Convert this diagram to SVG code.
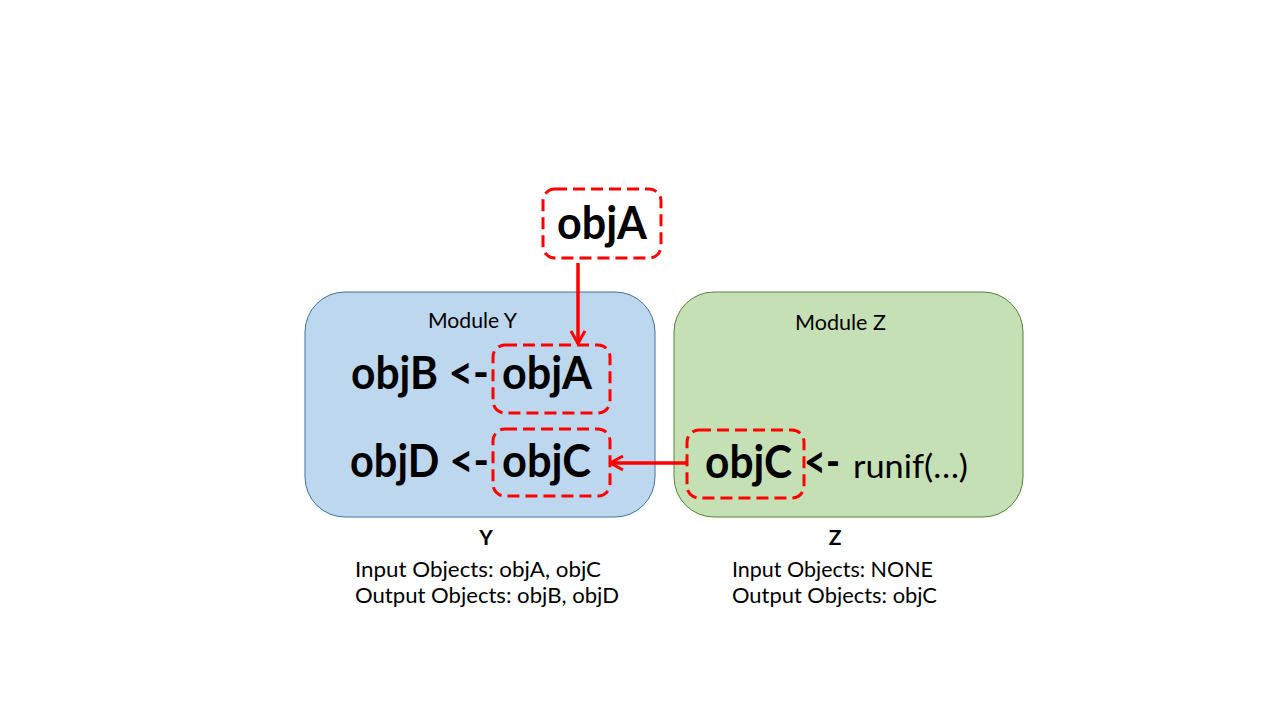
<svg xmlns="http://www.w3.org/2000/svg" width="1280" height="720" viewBox="0 0 1280 720">
<defs>
<style>
.mod-y{fill:#BDD7EE;stroke:#41719C;stroke-width:1}
.mod-z{fill:#C5E0B4;stroke:#548235;stroke-width:1}
.dash{fill:none;stroke:#FF0000;stroke-width:3;stroke-dasharray:12 6}
.big{font-family:Lato,"Open Sans","Liberation Sans",sans-serif;font-weight:bold;font-size:45px;fill:#000}
.reg{font-family:Lato,"Open Sans","Liberation Sans",sans-serif;font-size:21px;fill:#000}
.mid{font-family:Lato,"Open Sans","Liberation Sans",sans-serif;font-size:33px;fill:#000}
.conn{stroke:#FF0000;stroke-width:3.5;fill:none}
</style>
<marker id="arr" viewBox="0 0 16 18" refX="15" refY="9" markerWidth="16" markerHeight="18" markerUnits="userSpaceOnUse" orient="auto">
<path d="M2,2 L14.5,9 L2,16" fill="none" stroke="#FF0000" stroke-width="3"/>
</marker>
</defs>
<rect width="1280" height="720" fill="#FFFFFF"/>

<g id="moduleY">
<rect class="mod-y" x="305" y="292" width="350" height="225" rx="40"/>
<text class="reg" x="428" y="328" textLength="89" lengthAdjust="spacingAndGlyphs">Module Y</text>
<text class="big" x="351" y="389" textLength="138" lengthAdjust="spacingAndGlyphs">objB &lt;-</text>
<text class="big" x="350" y="477" textLength="139" lengthAdjust="spacingAndGlyphs">objD &lt;-</text>
</g>

<g id="moduleZ">
<rect class="mod-z" x="674" y="292" width="349" height="225" rx="40"/>
<text class="reg" x="795" y="330" textLength="91" lengthAdjust="spacingAndGlyphs">Module Z</text>
<text class="big" x="804" y="478" textLength="36" lengthAdjust="spacingAndGlyphs">&lt;-</text>
<text class="mid" x="853" y="478" textLength="115" lengthAdjust="spacingAndGlyphs">runif(…)</text>
</g>

<g id="objA-top">
<rect class="dash" x="543" y="189" width="118" height="69" rx="12"/>
<text class="big" x="557" y="239" textLength="90" lengthAdjust="spacingAndGlyphs">objA</text>
</g>

<g id="objA-inY">
<rect class="dash" x="493" y="345" width="117" height="68" rx="12"/>
<text class="big" x="502" y="389" textLength="90" lengthAdjust="spacingAndGlyphs">objA</text>
</g>

<g id="objC-inY">
<rect class="dash" x="493" y="429" width="117" height="67" rx="12"/>
<text class="big" x="502" y="477" textLength="89" lengthAdjust="spacingAndGlyphs">objC</text>
</g>

<g id="objC-inZ">
<rect class="dash" x="687" y="430" width="117" height="68" rx="12"/>
<text class="big" x="705" y="478" textLength="87" lengthAdjust="spacingAndGlyphs">objC</text>
</g>

<g id="labelY">
<text class="reg" x="486" y="545" text-anchor="middle" font-weight="bold">Y</text>
<text class="reg" x="355" y="577" textLength="246" lengthAdjust="spacingAndGlyphs">Input Objects: objA, objC</text>
<text class="reg" x="355" y="603" textLength="264" lengthAdjust="spacingAndGlyphs">Output Objects: objB, objD</text>
</g>

<g id="labelZ">
<text class="reg" x="835" y="545" text-anchor="middle" font-weight="bold">Z</text>
<text class="reg" x="732" y="577" textLength="201" lengthAdjust="spacingAndGlyphs">Input Objects: NONE</text>
<text class="reg" x="732" y="603" textLength="205" lengthAdjust="spacingAndGlyphs">Output Objects: objC</text>
</g>

<g id="connectors">
<line class="conn" x1="578" y1="263" x2="578" y2="344" marker-end="url(#arr)"/>
<line class="conn" x1="687" y1="463" x2="610" y2="463" marker-end="url(#arr)"/>
</g>
</svg>
